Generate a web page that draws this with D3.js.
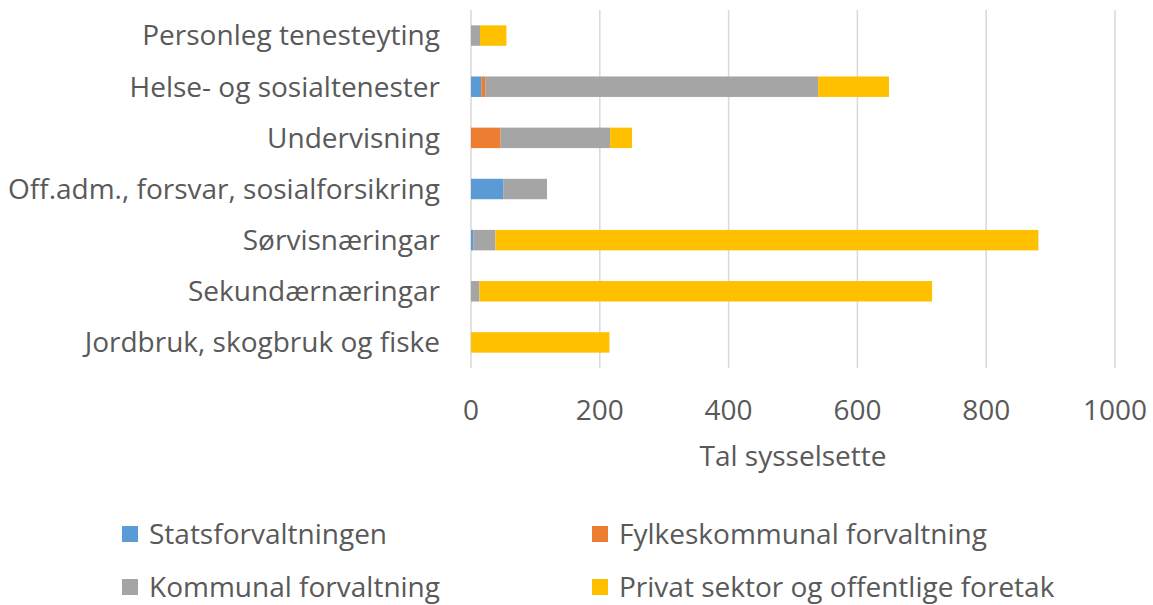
<!DOCTYPE html>
<html>
<head>
<meta charset="utf-8">
<script src="https://cdn.jsdelivr.net/npm/d3@7"></script>
<style>
  body { margin: 0; background: #fff; }
  svg text { font-family: "Open Sans", sans-serif; fill: #595959; }
</style>
</head>
<body>
<svg id="chart" width="1153" height="605"></svg>
<script>
const categories = [
  "Personleg tenesteyting",
  "Helse- og sosialtenester",
  "Undervisning",
  "Off.adm., forsvar, sosialforsikring",
  "Sørvisnæringar",
  "Sekundærnæringar",
  "Jordbruk, skogbruk og fiske"
];
const seriesNames = ["Statsforvaltningen", "Fylkeskommunal forvaltning", "Kommunal forvaltning", "Privat sektor og offentlige foretak"];
const stats     = [0, 16, 0, 50, 4, 0, 0];
const fylke     = [0, 6, 46, 0, 0, 0, 0];
const kommunal  = [14, 517, 170, 68, 34, 13, 0];
const privat    = [41, 110, 34, 0, 843, 703, 215];
const ticks = [0, 200, 400, 600, 800, 1000];
const colors = ["#5b9bd5", "#ed7d31", "#a5a5a5", "#ffc000"];

const svg = d3.select("#chart");
const plotL = 471, plotR = 1115, plotT = 10, plotB = 368;
const fs = 28;

const rows = categories.map((c, i) => ({
  cat: c, s0: stats[i], s1: fylke[i], s2: kommunal[i], s3: privat[i]
}));
const stack = d3.stack().keys(["s0", "s1", "s2", "s3"])(rows);

const x = d3.scaleLinear().domain([0, 1000]).range([plotL, plotR]);
const y = d3.scaleBand().domain(categories).range([plotT, plotB]).paddingInner(0.6).paddingOuter(0.3);

// gridlines
svg.append("g")
  .selectAll("line")
  .data(ticks)
  .join("line")
  .attr("x1", d => x(d)).attr("x2", d => x(d))
  .attr("y1", plotT).attr("y2", plotB)
  .attr("stroke", "#d9d9d9")
  .attr("stroke-width", 1.5);

// bars
svg.append("g")
  .selectAll("g")
  .data(stack)
  .join("g")
  .attr("fill", (d, i) => colors[i])
  .selectAll("rect")
  .data(d => d.filter(p => p[1] > p[0]))
  .join("rect")
  .attr("x", d => x(d[0]))
  .attr("width", d => x(d[1]) - x(d[0]))
  .attr("y", d => y(d.data.cat))
  .attr("height", y.bandwidth());

// category labels
svg.append("g")
  .attr("text-anchor", "end")
  .selectAll("text")
  .data(categories)
  .join("text")
  .attr("x", 440)
  .attr("y", d => y(d) + y.bandwidth() / 2)
  .attr("dy", "0.35em")
  .attr("font-size", fs)
  .text(d => d);

// tick labels
svg.append("g")
  .attr("text-anchor", "middle")
  .selectAll("text")
  .data(ticks)
  .join("text")
  .attr("x", d => x(d))
  .attr("y", 410)
  .attr("dy", "0.35em")
  .attr("font-size", fs)
  .text(d => d);

svg.append("text")
  .attr("x", (plotL + plotR) / 2)
  .attr("y", 456)
  .attr("dy", "0.35em")
  .attr("text-anchor", "middle")
  .attr("font-size", fs)
  .text("Tal sysselsette");

// legend
const legendPos = [[122, 534], [592, 534], [122, 587], [592, 587]];
const legend = svg.append("g")
  .selectAll("g")
  .data(seriesNames)
  .join("g")
  .attr("transform", (d, i) => `translate(${legendPos[i][0]},${legendPos[i][1]})`);
legend.append("rect")
  .attr("x", 0).attr("y", -8)
  .attr("width", 16).attr("height", 16)
  .attr("fill", (d, i) => colors[i]);
legend.append("text")
  .attr("x", 27)
  .attr("dy", "0.35em")
  .attr("font-size", fs)
  .text(d => d);
</script>
</body>
</html>
